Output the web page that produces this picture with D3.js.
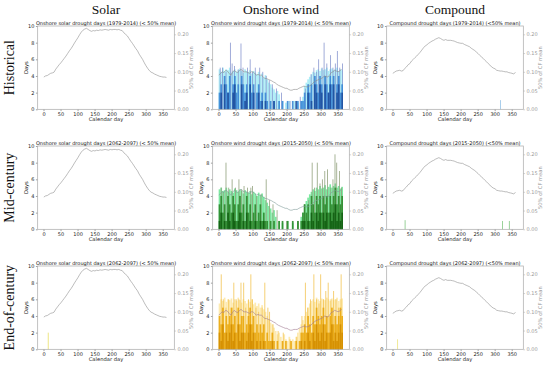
<!DOCTYPE html>
<html>
<head>
<meta charset="utf-8">
<script src="https://cdn.jsdelivr.net/npm/d3@7"></script>
<style>
  body { margin: 0; background: #fff; }
  svg { display: block; }
</style>
</head>
<body>
<div id="chart"></div>
<script>
// row / column headers
const rowLabels = ['Historical', 'Mid-century', 'End-of-century'];
const colLabels = ['Solar', 'Onshore wind', 'Compound'];

const panelTitles = [
  ['Onshore solar drought days (1979-2014) (< 50% mean)', 'Onshore wind drought days (1979-2014) (< 50% mean)', 'Compound drought days (1979-2014) (<50% mean)'],
  ['Onshore solar drought days (2062-2097) (< 50% mean)', 'Onshore wind drought days (2015-2050) (< 50% mean)', 'Compound drought days (2015-2050) (<50% mean)'],
  ['Onshore solar drought days (2062-2097) (< 50% mean)', 'Onshore wind drought days (2062-2097) (< 50% mean)', 'Compound drought days (2062-2097) (<50% mean)']
];

const dayTicks = [0, 50, 100, 150, 200, 250, 300, 350];
const daysTicks = [0, 2, 4, 6, 8, 10];
const cfTicks = [0, 0.05, 0.10, 0.15, 0.20];

// 50% of CF mean, one value every 5 calendar days (day 1, 6, 11 ... 361)
const solarCF = [.086,.089,.090,.093,.096,.097,.099,.107,.113,.119,.124,.130,.136,.142,.149,.156,.162,.169,.177,.184,
  .191,.199,.206,.211,.214,.216,.213,.210,.208,.210,.209,.211,.210,.212,.211,.212,.213,.212,.211,.213,
  .212,.213,.213,.212,.213,.211,.210,.204,.200,.196,.189,.182,.176,.169,.162,.156,.147,.140,.133,.124,
  .116,.109,.103,.099,.097,.094,.092,.090,.088,.087,.086,.086,.085];
const windCF = [.091,.096,.100,.098,.104,.102,.096,.091,.098,.104,.100,.098,.102,.107,.102,.100,.100,.098,.096,.100,
  .100,.096,.091,.093,.091,.091,.087,.082,.082,.080,.078,.076,.073,.071,.067,.064,.062,.060,.058,.056,
  .056,.053,.051,.051,.053,.053,.053,.056,.058,.060,.062,.060,.060,.062,.064,.069,.073,.076,.078,.080,
  .082,.084,.089,.087,.086,.091,.098,.100,.104,.102,.100,.102,.107];
const compoundCF = [.096,.099,.102,.103,.104,.102,.103,.109,.113,.119,.122,.129,.133,.138,.142,.147,.152,.158,.164,.169,
  .172,.176,.179,.182,.184,.187,.189,.191,.189,.186,.184,.186,.184,.184,.184,.183,.182,.180,.178,.177,
  .176,.176,.173,.171,.169,.167,.163,.160,.157,.153,.149,.144,.140,.136,.131,.127,.122,.118,.113,.110,
  .108,.104,.103,.102,.102,.101,.100,.100,.098,.097,.096,.094,.099];

// wind drought days, 5-day bins (days 1-5, 6-10 ... 361-365)
const windLightHist = [4.8,4.5,5.0,4.6,4.8,4.7,5.0,4.4,4.6,4.8,4.5,4.7,4.9,4.6,4.4,4.8,4.6,4.5,4.7,4.3,4.6,4.4,4.2,4.5,4.0,4.3,3.8,4.1,3.6,3.2,
  3.0,2.6,2.4,2.0,2.2,1.8, 0,1.0,0,0.8,0,1.0,0,0,1.0,0,0.8,0,1.0,1.5,
  2.8,3.2,3.6,3.9,4.2,4.5,4.4,4.7,4.8,4.6,4.9,4.7,4.8,5.0,4.6,4.8,4.9,4.7,4.8,5.0,4.6,4.8,4.7];
const windMidHist = [2,3,0,4,3,2,4,0,3,4,2,3,0,4,3,2,3,0,4,2,3,0,2,3,1,2,0,2,1,0,
  1,0,1,0,0,1, 0,1,0,0,1,0,0,1,0,0,1,0,1,1,
  2,0,3,2,3,0,4,3,2,4,3,0,4,3,2,4,3,4,0,3,4,2,3];
const windDarkHist = [0,2,0,3,0,2,0,0,2,3,0,0,0,3,0,1,2,0,3,0,2,0,0,2,0,1,0,1,0,0,
  0,0,1,0,0,0, 0,0,0,0,0,0,0,0,0,1,0,0,0,0,
  0,0,2,0,1,0,3,2,0,3,2,0,3,0,2,3,0,3,0,2,3,0,2];
const windSpikesHist = [[5,5],[12,5],[22,4.5],[35,8],[40,5.5],[47,5.2],[58,4.8],[66,7.9],[72,5],[85,5],[93,6],[100,4.5],
  [108,5],[121,5],[130,4.5],[140,4],[149,3.5],[158,3],[170,2.5],[185,2],[210,1],[240,1.5],[255,2.5],[265,3],
  [272,4.2],[280,5],[288,4.5],[294,6],[304,5],[310,8],[318,5.5],[329,6.5],[336,5],[343,5.5],[349,7],[356,5],[364,5.5]];

const windLightMid = [4.8,5.0,4.6,4.7,5.0,4.5,4.8,4.6,4.4,4.9,4.7,4.5,4.8,4.6,4.3,4.7,4.5,4.4,4.6,4.2,4.5,4.3,4.0,4.4,4.1,4.3,3.9,3.5,3.2,2.8,
  2.5,2.0,2.3,1.5,0,1.0, 0,0.8,0,0,1.0,0,0,0.8,0,0,0.8,0,1.5,2.0,
  3.0,3.4,3.8,4.2,4.5,4.8,4.6,5.0,4.8,5.2,4.9,5.0,5.3,4.8,5.1,5.4,5.0,5.2,5.5,5.0,5.2,4.9,5.1];
const windMidMid = [3,4,2,3,1,4,3,2,4,3,1,3,4,2,3,1,4,2,3,1,2,3,1,2,3,1,2,1,1,0,
  1,0,1,0,0,1, 0,1,0,0,1,0,0,1,0,0,1,0,1,2,
  3,2,3,1,4,3,2,4,3,4,2,4,3,4,2,4,3,4,5,3,4,3,4];
const windDarkMid = [1,2,0,1,0,2,1,0,2,1,0,1,2,0,1,0,2,0,1,0,0,1,0,0,1,0,1,0,0,0,
  0,0,0,0,0,0, 0,0,0,0,0,0,0,0,0,0,0,0,0,1,
  1,0,1,0,2,1,0,2,1,2,0,2,1,2,0,2,1,2,3,1,2,1,2];
const windSpikesMid = [[8,5],[14,4.5],[22,8],[30,5],[40,6],[50,5],[60,6],[68,4.8],[75,5.2],[85,5],[95,5],[100,5.2],
  [112,4],[125,4.2],[140,6],[150,3.5],[160,3],[172,2.3],[200,1],[235,1],[252,3],[265,3.5],[275,8],[282,5],
  [290,8],[298,5.5],[305,6],[312,7],[320,7.2],[328,5],[336,6],[342,9],[347,8],[355,7],[361,5]];

const windLightEnd = [5.5,6.0,5.8,6.2,5.7,6.0,5.9,6.1,5.6,6.0,5.8,6.2,5.9,5.6,6.0,5.8,5.5,5.9,5.7,6.0,5.4,5.6,5.2,5.5,5.0,5.3,4.8,4.5,4.0,3.6,
  3.2,3.0,2.6,2.2,1.8,2.0, 1.5,1.0,1.8,1.2,1.0,1.5,0.8,1.2,1.0,1.5,2.0,2.5,3.0,3.5,
  4.0,4.5,5.0,5.5,5.8,6.0,5.7,6.2,6.0,5.8,6.1,6.0,5.9,6.2,6.0,5.8,6.1,5.9,6.0,6.2,5.8,6.0,6.1];
const windMidEnd = [4,3,5,2,4,3,4,5,3,4,2,5,3,4,4,2,3,4,5,3,4,2,3,2,3,2,3,1,2,1,
  1,2,1,0,1,0, 0,1,0,1,0,0,1,0,0,1,0,1,2,2,
  3,2,4,3,2,4,3,5,4,3,4,5,3,4,2,4,5,3,4,3,4,5,4];
const windDarkEnd = [2,1,3,0,2,1,2,3,1,2,0,3,1,2,2,0,1,2,3,1,2,0,1,0,1,0,1,0,0,0,
  0,1,0,0,0,0, 0,0,0,0,0,0,0,0,0,0,0,0,1,0,
  1,0,2,1,0,2,1,3,2,1,2,3,1,2,0,2,3,1,2,1,2,3,2];
const windSpikesEnd = [[8,9],[14,6],[22,5],[30,6],[40,5],[45,8],[52,6],[60,6],[66,8],[74,8],[80,5],[88,6],[95,9],
  [100,6],[110,5],[118,4.5],[128,5],[136,8],[145,5],[150,4.5],[160,3],[175,2.2],[190,2],[210,1.2],[230,1.5],
  [245,4],[255,8],[262,5],[270,6],[280,9],[288,6],[295,5.5],[300,9],[308,6],[315,7],[322,8],[330,6],[338,7],
  [345,6],[352,5],[360,9]];

// isolated drought days in solar / compound panels: [day, days]
const solarBarsEnd = [[14, 2.0]];
const compoundBarsHist = [[317, 1.1]];
const compoundBarsMid = [[37, 1.1], [323, 1.0], [343, 1.0]];
const compoundBarsEnd = [[15, 1.2]];

const width = 550, height = 367;
const colX = [37.7, 212.7, 386.7];
const rowY = [26, 146, 266];
const pw = 136.6, ph = 83.3;

const palettes = [
  { light: '#9deaf4', spike: '#8391cc', mid: '#3a88d6', dark: '#1f4f9e', line: '#8a8a8a', single: '#8fbfe6' },
  { light: '#66e491', spike: '#8c9c76', mid: '#2b8a2b', dark: '#125f12', line: '#7f9a98', single: '#7cc47c' },
  { light: '#fde6a2', spike: '#f2c14a', mid: '#eaa80e', dark: '#d48e00', line: '#a07890', single: '#ece37a' }
];

const windSeries = [
  { light: windLightHist, mid: windMidHist, dark: windDarkHist, spikes: windSpikesHist },
  { light: windLightMid, mid: windMidMid, dark: windDarkMid, spikes: windSpikesMid },
  { light: windLightEnd, mid: windMidEnd, dark: windDarkEnd, spikes: windSpikesEnd }
];
const solarBars = [[], [], solarBarsEnd];
const compoundBars = [compoundBarsHist, compoundBarsMid, compoundBarsEnd];
const lineData = [solarCF, windCF, compoundCF];

const svg = d3.select('#chart').append('svg')
  .attr('width', width)
  .attr('height', height)
  .attr('viewBox', `0 0 ${width} ${height}`);

svg.append('rect').attr('width', width).attr('height', height).attr('fill', '#fff');

const x = d3.scaleLinear().domain([-17, 384]).range([0, pw]);
const y = d3.scaleLinear().domain([0, 10]).range([ph, 0]);
const yR = d3.scaleLinear().domain([0, 0.2222]).range([ph, 0]);

// column headers
colLabels.forEach((label, c) => {
  svg.append('text')
    .attr('x', colX[c] + pw / 2)
    .attr('y', 13.5)
    .attr('text-anchor', 'middle')
    .style('font-family', '"Liberation Serif", "DejaVu Serif", serif')
    .style('font-size', '13.5px')
    .attr('fill', '#111')
    .text(label);
});

// row headers
rowLabels.forEach((label, r) => {
  svg.append('text')
    .attr('transform', `translate(14, ${rowY[r] + ph / 2}) rotate(-90)`)
    .attr('text-anchor', 'middle')
    .style('font-family', '"Liberation Serif", "DejaVu Serif", serif')
    .style('font-size', '14px')
    .attr('fill', '#111')
    .text(label);
});

function drawBins(g, values, color, opacity) {
  g.append('g').selectAll('rect')
    .data(values)
    .join('rect')
    .attr('x', (d, i) => x(5 * i + 0.5))
    .attr('width', x(5) - x(0))
    .attr('y', d => y(d))
    .attr('height', d => y(0) - y(d))
    .attr('fill', color)
    .attr('fill-opacity', opacity);
}

function drawSpikes(g, values, color, opacity, w) {
  g.append('g').selectAll('rect')
    .data(values)
    .join('rect')
    .attr('x', d => x(d[0] - w / 2))
    .attr('width', x(w) - x(0))
    .attr('y', d => y(d[1]))
    .attr('height', d => y(0) - y(d[1]))
    .attr('fill', color)
    .attr('fill-opacity', opacity);
}

const line = d3.line()
  .x((d, i) => x(1 + 5 * i))
  .y(d => yR(d));

for (let r = 0; r < 3; r++) {
  for (let c = 0; c < 3; c++) {
    const pal = palettes[r];
    const g = svg.append('g').attr('transform', `translate(${colX[c]}, ${rowY[r]})`);

    // bars
    if (c === 1) {
      const s = windSeries[r];
      drawBins(g, s.light, pal.light, 0.85);
      drawSpikes(g, s.spikes, pal.spike, 0.85, 2.6);
      drawBins(g, s.mid, pal.mid, 0.9);
      drawBins(g, s.dark, pal.dark, 0.9);
    } else if (c === 0) {
      drawSpikes(g, solarBars[r], pal.single, 0.9, 3);
    } else {
      drawSpikes(g, compoundBars[r], pal.single, 0.9, 2.5);
    }

    // CF mean line on the right axis
    g.append('path')
      .datum(lineData[c])
      .attr('d', line)
      .attr('fill', 'none')
      .attr('stroke', c === 1 ? pal.line : '#8f8f8f')
      .attr('stroke-width', 0.6);

    // axes
    const axL = g.append('g')
      .call(d3.axisLeft(y).tickValues(daysTicks).tickSize(1.8).tickPadding(1.5).tickFormat(d3.format('d')));
    const axB = g.append('g')
      .attr('transform', `translate(0, ${ph})`)
      .call(d3.axisBottom(x).tickValues(dayTicks).tickSize(1.8).tickPadding(1).tickFormat(d3.format('d')));
    const axR = g.append('g')
      .attr('transform', `translate(${pw}, 0)`)
      .call(d3.axisRight(yR).tickValues(cfTicks).tickSize(1.8).tickPadding(1.5).tickFormat(d3.format('.2f')));

    [axL, axB, axR].forEach(ax => {
      ax.select('.domain').remove();
      ax.selectAll('text')
        .style('font-family', '"DejaVu Sans", sans-serif')
        .style('font-size', '5px');
    });
    axL.selectAll('line').attr('stroke', '#444').attr('stroke-width', 0.5);
    axB.selectAll('line').attr('stroke', '#444').attr('stroke-width', 0.5);
    axL.selectAll('text').attr('fill', '#222');
    axB.selectAll('text').attr('fill', '#222');
    axR.selectAll('line').attr('stroke', '#aaa').attr('stroke-width', 0.5);
    axR.selectAll('text').attr('fill', '#9a9a9a');

    // frame
    g.append('rect')
      .attr('width', pw)
      .attr('height', ph)
      .attr('fill', 'none')
      .attr('stroke', '#a8a8a8')
      .attr('stroke-width', 0.7);

    // title
    g.append('text')
      .attr('x', pw / 2)
      .attr('y', -1.3)
      .attr('text-anchor', 'middle')
      .style('font-family', '"DejaVu Sans", sans-serif')
      .style('font-size', '5px')
      .attr('fill', '#111')
      .text(panelTitles[r][c]);

    // axis labels
    g.append('text')
      .attr('x', pw / 2)
      .attr('y', ph + 12)
      .attr('text-anchor', 'middle')
      .style('font-family', '"DejaVu Sans", sans-serif')
      .style('font-size', '5.2px')
      .attr('fill', '#222')
      .text('Calendar day');

    g.append('text')
      .attr('transform', `translate(-9.5, ${ph / 2}) rotate(-90)`)
      .attr('text-anchor', 'middle')
      .style('font-family', '"DejaVu Sans", sans-serif')
      .style('font-size', '5.2px')
      .attr('fill', '#222')
      .text('Days');

    g.append('text')
      .attr('transform', `translate(${pw + 18.5}, ${ph / 2}) rotate(-90)`)
      .attr('text-anchor', 'middle')
      .style('font-family', '"DejaVu Sans", sans-serif')
      .style('font-size', '5.2px')
      .attr('fill', '#9a9a9a')
      .text('50% of CF mean');
  }
}
</script>
</body>
</html>
